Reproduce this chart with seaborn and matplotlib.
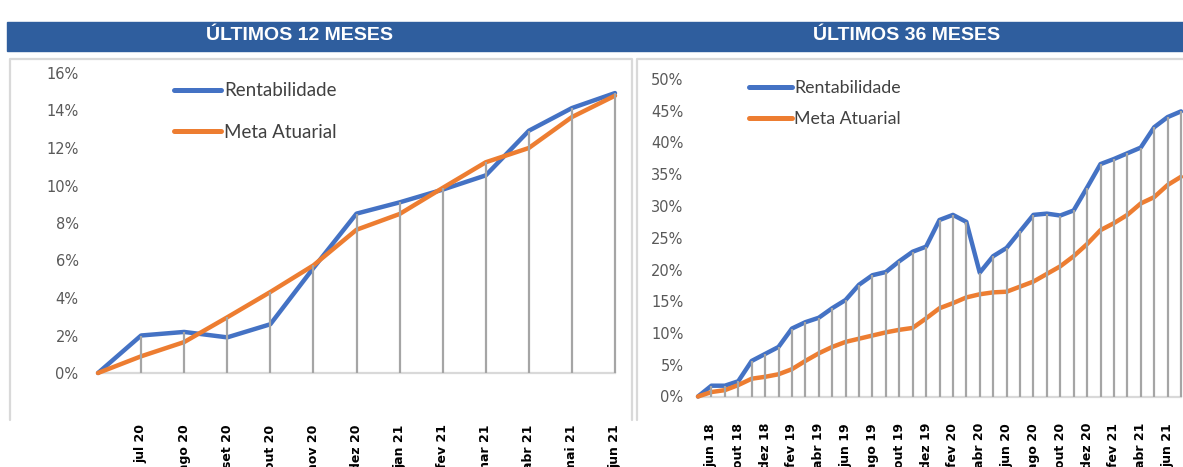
import numpy as np
import pandas as pd
import seaborn as sns
import matplotlib.pyplot as plt
from matplotlib.lines import Line2D
from matplotlib.patches import Rectangle
from matplotlib.transforms import ScaledTranslation

# --- Últimos 12 meses (ponto inicial = 0) ---
meses_12 = ["jul 20", "ago 20", "set 20", "out 20", "nov 20", "dez 20",
            "jan 21", "fev 21", "mar 21", "abr 21", "mai 21", "jun 21"]
rent_12 = [0.0, 2.0, 2.19, 1.9, 2.6, 5.6, 8.5, 9.1, 9.78, 10.54, 12.92, 14.13, 14.93]
meta_12 = [0.0, 0.89, 1.65, 2.97, 4.32, 5.74, 7.64, 8.48, 9.87, 11.24, 12.0, 13.65, 14.79]

# --- Últimos 36 meses (rótulos a cada dois pontos) ---
meses_36 = ["jun 18", "out 18", "dez 18", "fev 19", "abr 19", "jun 19", "ago 19",
            "out 19", "dez 19", "fev 20", "abr 20", "jun 20", "ago 20", "out 20",
            "dez 20", "fev 21", "abr 21", "jun 21"]
rent_36 = [0.0, 1.7, 1.7, 2.4, 5.6, 6.7, 7.8, 10.7, 11.7, 12.4, 13.9, 15.2, 17.6,
           19.1, 19.6, 21.3, 22.8, 23.6, 27.8, 28.6, 27.5, 19.5, 22.1, 23.4, 26.0,
           28.6, 28.8, 28.5, 29.3, 32.9, 36.6, 37.4, 38.3, 39.2, 42.4, 44.0, 44.9]
meta_36 = [0.0, 0.7, 1.0, 1.8, 2.8, 3.1, 3.5, 4.3, 5.6, 6.8, 7.8, 8.6, 9.1,
           9.6, 10.1, 10.5, 10.8, 12.3, 13.9, 14.7, 15.6, 16.1, 16.4, 16.5, 17.3,
           18.1, 19.3, 20.5, 22.1, 24.0, 26.2, 27.3, 28.6, 30.4, 31.4, 33.3, 34.6]

SERIES = ["Rentabilidade", "Meta Atuarial"]
PALETTE = {"Rentabilidade": "#4472C4", "Meta Atuarial": "#ED7D31"}
DROP = "#A5A5A5"
BORDER = "#D9D9D9"
TICK = "#595959"

W, H = 1183, 467


def fx(px):
    return px / W


def fy(py):
    return 1 - py / H


def make_df(rent, meta):
    n = len(rent)
    return pd.DataFrame({
        "pos": list(range(n)) * 2,
        "valor": list(rent) + list(meta),
        "serie": [SERIES[0]] * n + [SERIES[1]] * n,
    })


sns.set_style("white")
plt.rcParams["font.family"] = ["DejaVu Sans"]

fig = plt.figure(figsize=(W / 100, H / 100), dpi=100)

# header band + titles
fig.patches.append(Rectangle((fx(7), fy(51)), fx(1183) - fx(7), fy(22) - fy(51),
                             transform=fig.transFigure, color="#2F5E9E", zorder=0))
for cx, title in [(300, "ÚLTIMOS 12 MESES"), (907, "ÚLTIMOS 36 MESES")]:
    fig.text(fx(cx), fy(36), title, color="white", fontsize=14, fontweight="bold",
             family=["Liberation Sans", "DejaVu Sans"], ha="center", va="center")

# panel borders (open at the bottom)
for xs in [(10, 632), (637, 1190)]:
    fig.add_artist(Line2D([fx(xs[0]), fx(xs[0]), fx(xs[1]), fx(xs[1])],
                          [fy(420), fy(59), fy(59), fy(420)],
                          transform=fig.transFigure, color=BORDER, lw=1.6))

panels = [
    dict(rent=rent_12, meta=meta_12, labels=meses_12, label_pos=list(range(1, 13)),
         rect=(98, 615, 73, 373), ymax=16, ystep=2, lab_dx=-14, ypad=14, xpad=37,
         yfs=10.5, leg=(165, 111.5), leg_hl=2.5, leg_sp=1.3, leg_fs=13.5),
    dict(rent=rent_36, meta=meta_36, labels=meses_36, label_pos=list(range(1, 37, 2)),
         rect=(698, 1181, 79, 396.5), ymax=50, ystep=5, lab_dx=-5.5, ypad=10.5, xpad=19,
         yfs=10.5, leg=(740, 103.5), leg_hl=2.4, leg_sp=0.85, leg_fs=12.8),
]

for p in panels:
    x0, x1, y0, y1 = p["rect"]
    ax = fig.add_axes([fx(x0), fy(y1), fx(x1) - fx(x0), fy(y0) - fy(y1)])
    df = make_df(p["rent"], p["meta"])
    n = len(p["rent"])

    sns.lineplot(data=df, x="pos", y="valor", hue="serie", hue_order=SERIES,
                 palette=PALETTE, linewidth=3.2, ax=ax, legend=True)
    for ln in ax.lines:
        ln.set_clip_on(False)
        ln.set_solid_joinstyle("round")
        ln.set_solid_capstyle("round")
        ln.set_zorder(2)

    # drop lines from the highest series to zero
    top = np.maximum(np.array(p["rent"]), np.array(p["meta"]))
    ax.vlines(np.arange(1, n), 0, top[1:], color=DROP, lw=1.6, zorder=3, clip_on=False)

    ax.set_xlim(0, n - 1)
    ax.set_ylim(0, p["ymax"])
    yt = np.arange(0, p["ymax"] + 0.1, p["ystep"])
    ax.set_yticks(yt)
    ax.set_yticklabels([f"{v:.0f}%" for v in yt])
    ax.set_xticks(p["label_pos"])
    ax.set_xticklabels(p["labels"], rotation=90, fontweight="bold", fontsize=9)
    ax.set_xlabel("")
    ax.set_ylabel("")

    offset = ScaledTranslation(p["lab_dx"] / 100, 0, fig.dpi_scale_trans)
    for lab in ax.get_xticklabels():
        lab.set_transform(lab.get_transform() + offset)

    ax.tick_params(axis="y", length=0, pad=p["ypad"], labelsize=p["yfs"], labelcolor=TICK)
    ax.tick_params(axis="x", length=0, pad=p["xpad"], labelcolor="black")
    for side in ["top", "right", "left"]:
        ax.spines[side].set_visible(False)
    ax.spines["bottom"].set_color(BORDER)
    ax.spines["bottom"].set_linewidth(1.6)
    ax.spines["bottom"].set_zorder(1)
    ax.set_facecolor("none")

    lx, ly = p["leg"]
    leg = ax.legend(loc="center left", bbox_to_anchor=(fx(lx), fy(ly)),
                    bbox_transform=fig.transFigure, frameon=False,
                    handlelength=p["leg_hl"], handletextpad=0.15,
                    labelspacing=p["leg_sp"], borderpad=0,
                    prop={"family": ["Lato", "DejaVu Sans"], "size": p["leg_fs"]})
    for t in leg.get_texts():
        t.set_color("#404040")
    for h in leg.get_lines():
        h.set_linewidth(3.6)
        h.set_solid_capstyle("round")

fig.savefig("out.png", dpi=100)
